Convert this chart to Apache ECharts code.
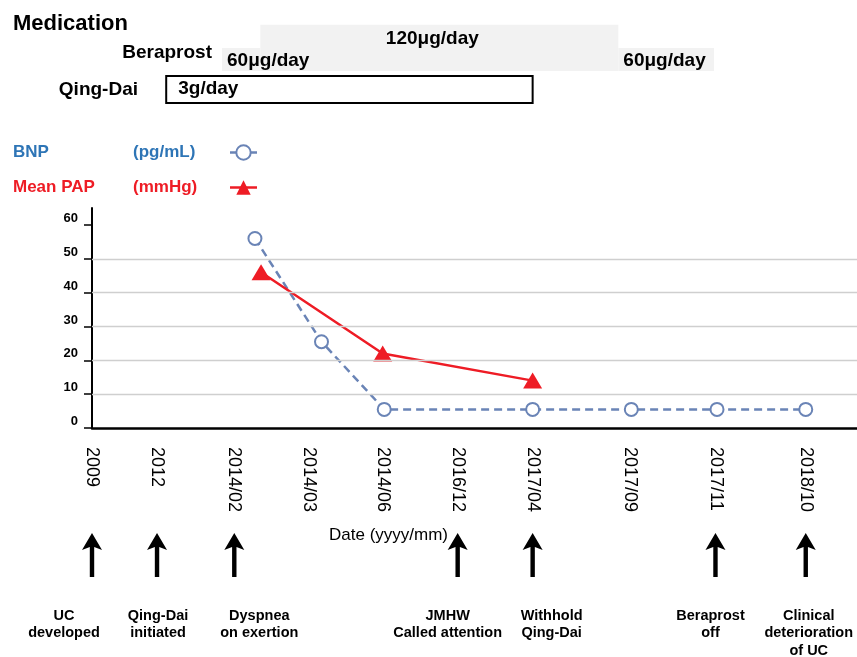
<!DOCTYPE html>
<html>
<head>
<meta charset="utf-8">
<script src="https://cdn.jsdelivr.net/npm/echarts@6/dist/echarts.min.js"></script>
<style>
  html, body { margin: 0; padding: 0; background: #fff; }
  #main { width: 857px; height: 657px; }
</style>
</head>
<body>
<div id="main"></div>
<script>
// timeline is schematic (not to scale), positions in axis units 0..100
var dateLabels = ['2009', '2012', '2014/02', '2014/03', '2014/06', '2016/12', '2017/04', '2017/09', '2017/11', '2018/10'];
var datePos = [0, 8.5, 18.6, 28.4, 38.0, 47.8, 57.6, 70.3, 81.5, 93.3];

var bnpX = [21.3, 30.0, 38.2, 57.6, 70.5, 81.7, 93.3];
var bnpY = [56, 25.5, 5.5, 5.5, 5.5, 5.5, 5.5];
var papX = [22.1, 38.0, 57.6];
var papY = [46, 22, 14];

var yTicks = [0, 10, 20, 30, 40, 50, 60];
var gridValues = [10, 20, 30, 40, 50];

// events: index into dateLabels
var eventDateIdx = [0, 1, 2, 5, 6, 8, 9];
var eventText = ['UC\ndeveloped', 'Qing-Dai\ninitiated', 'Dyspnea\non exertion', 'JMHW\nCalled attention', 'Withhold\nQing-Dai', 'Beraprost\noff', 'Clinical\ndeterioration\nof UC'];
var eventShift = [-28, 1, 25, -10, 19, -5, 3];

// medication periods
var beraprostStart = [17.0, 22.0, 68.8];
var beraprostEnd = [22.0, 68.8, 81.3];
var beraprostDose = [60, 120, 60];
var qingdaiStart = [9.7];
var qingdaiEnd = [57.6];
var qingdaiDose = ['3g/day'];

var FONT = 'Liberation Sans, Arial, sans-serif';
var BNP_COLOR = '#6a84b6';
var PAP_COLOR = '#ee1c25';
var arrowPath = 'path://M10,0 L20,17 L12.2,14 L12.2,44 L7.8,44 L7.8,14 L0,17 Z';

var chart = echarts.init(document.getElementById('main'));

var beraprostData = beraprostStart.map(function (s, i) { return [s, beraprostEnd[i], beraprostDose[i], 1]; });
var qingdaiData = qingdaiStart.map(function (s, i) { return [s, qingdaiEnd[i], qingdaiDose[i], 0]; });

function nearestLabel(v) {
  var best = 0;
  for (var i = 1; i < datePos.length; i++) {
    if (Math.abs(datePos[i] - v) < Math.abs(datePos[best] - v)) best = i;
  }
  return dateLabels[best];
}

var option = {
  animation: false,
  textStyle: { fontFamily: FONT },
  title: {
    text: 'Medication',
    left: 8, top: 8,
    textStyle: { fontSize: 22, fontWeight: 'bold', color: '#000', fontFamily: FONT }
  },
  legend: {
    orient: 'vertical',
    left: 8, top: 139,
    align: 'right',
    itemWidth: 27, itemHeight: 18,
    itemGap: 18,
    lineStyle: { type: 'solid', width: 2.5 },
    data: [
      { name: 'BNP', textStyle: { color: '#2e75b6' } },
      { name: 'Mean PAP', textStyle: { color: PAP_COLOR } }
    ],
    formatter: function (name) {
      var unit = name === 'BNP' ? '(pg/mL)' : '(mmHg)';
      return '{n|' + name + '}{u|' + unit + '}';
    },
    textStyle: {
      fontFamily: FONT,
      rich: {
        n: { width: 120, fontSize: 17, fontWeight: 'bold', align: 'left' },
        u: { width: 92, fontSize: 17, fontWeight: 'bold', align: 'left' }
      }
    }
  },
  grid: [
    { left: 92, right: 0, top: 34, height: 74 },
    { left: 92, right: 0, top: 208, height: 220 },
    { left: 92, right: 0, top: 533, height: 44 }
  ],
  xAxis: [
    { gridIndex: 0, type: 'value', min: 0, max: 100, show: false },
    {
      gridIndex: 1, type: 'value', min: 0, max: 100,
      axisLine: { lineStyle: { color: '#000', width: 2.5 } },
      axisTick: { show: false },
      splitLine: { show: false },
      axisLabel: {
        customValues: datePos,
        formatter: nearestLabel,
        rotate: -90, margin: 19,
        fontSize: 18, color: '#000', fontFamily: FONT
      }
    },
    { gridIndex: 2, type: 'value', min: 0, max: 100, show: false }
  ],
  yAxis: [
    {
      gridIndex: 0, type: 'category', data: ['Qing-Dai', 'Beraprost'],
      axisLine: { show: false }, axisTick: { show: false },
      axisLabel: {
        margin: -120,
        formatter: function (v) { return v === 'Beraprost' ? '{b|' + v + '}' : '{q|' + v + '}'; },
        rich: {
          b: { fontSize: 19, fontWeight: 'bold', color: '#000', fontFamily: FONT },
          q: { fontSize: 19, fontWeight: 'bold', color: '#000', fontFamily: FONT, padding: [0, 74, 0, 0] }
        }
      }
    },
    {
      gridIndex: 1, type: 'value', min: 0, max: 65,
      axisLine: { show: true, lineStyle: { color: '#000', width: 2 } },
      axisTick: { show: true, customValues: yTicks, length: 8, lineStyle: { color: '#000', width: 1.5 } },
      axisLabel: { customValues: yTicks, fontWeight: 'bold', fontSize: 13, color: '#000', margin: 14, verticalAlign: 'bottom', fontFamily: FONT },
      splitLine: { show: false }
    },
    { gridIndex: 2, type: 'value', min: 0, max: 1, show: false }
  ],
  graphic: [
    {
      type: 'text', left: 329, top: 527,
      style: { text: 'Date (yyyy/mm)', font: '17px ' + FONT, fill: '#000' }
    }
  ],
  series: [
    {
      type: 'custom', xAxisIndex: 0, yAxisIndex: 0,
      encode: { x: [0, 1], y: 3 },
      data: beraprostData,
      renderItem: function (params, api) {
        var x0 = api.coord([api.value(0), 1])[0];
        var x1 = api.coord([api.value(1), 1])[0];
        var band = api.size([0, 1])[1];
        var bottom = api.coord([0, 1])[1] + band / 2;
        var dose = api.value(2);
        var h = band * dose / 96;
        var big = dose >= 120;
        return {
          type: 'group',
          children: [
            { type: 'rect', z2: 0, shape: { x: x0, y: bottom - h, width: x1 - x0, height: h }, style: { fill: '#f2f2f2' } },
            {
              type: 'text', z2: 10,
              x: big ? (x0 + x1) / 2 - 7 : x0 + 5,
              y: big ? bottom - h + 14 : bottom - h / 2 + 1,
              style: { text: dose + 'μg/day', font: 'bold 19px ' + FONT, fill: '#000', align: big ? 'center' : 'left', verticalAlign: 'middle' }
            }
          ]
        };
      }
    },
    {
      type: 'custom', xAxisIndex: 0, yAxisIndex: 0,
      encode: { x: [0, 1], y: 3 },
      data: qingdaiData,
      renderItem: function (params, api) {
        var x0 = api.coord([api.value(0), 0])[0];
        var x1 = api.coord([api.value(1), 0])[0];
        var band = api.size([0, 1])[1];
        var yc = api.coord([0, 0])[1];
        var h = band * 0.73;
        return {
          type: 'group',
          children: [
            { type: 'rect', shape: { x: x0, y: yc - h / 2, width: x1 - x0, height: h }, style: { fill: '#fff', stroke: '#000', lineWidth: 2 } },
            { type: 'text', x: x0 + 12, y: yc - 1, style: { text: api.value(2), font: 'bold 19px ' + FONT, fill: '#000', verticalAlign: 'middle' } }
          ]
        };
      }
    },
    {
      name: 'BNP', type: 'line', xAxisIndex: 1, yAxisIndex: 1,
      data: bnpX.map(function (x, i) { return [x, bnpY[i]]; }),
      symbol: 'emptyCircle', symbolSize: 13,
      itemStyle: { color: BNP_COLOR, borderWidth: 2.5 },
      lineStyle: { color: BNP_COLOR, width: 2.5, type: [8, 5] },
      z: 3,
      markLine: {
        silent: true, symbol: 'none', label: { show: false },
        lineStyle: { color: '#cfcfcf', width: 1.3, type: 'solid' },
        data: gridValues.map(function (v) { return { yAxis: v }; })
      }
    },
    {
      name: 'Mean PAP', type: 'line', xAxisIndex: 1, yAxisIndex: 1,
      data: papX.map(function (x, i) { return [x, papY[i]]; }),
      symbol: 'triangle', symbolSize: [19, 16],
      itemStyle: { color: PAP_COLOR },
      lineStyle: { color: PAP_COLOR, width: 2.5 },
      z: 4
    },
    {
      type: 'scatter', xAxisIndex: 2, yAxisIndex: 2,
      symbol: arrowPath, symbolSize: [20, 44],
      itemStyle: { color: '#000', opacity: 1 },
      data: eventDateIdx.map(function (d, i) {
        return { value: [datePos[d], 0.5], label: { offset: [eventShift[i], 0] } };
      }),
      label: {
        show: true, position: 'bottom', distance: 30,
        formatter: function (p) { return eventText[p.dataIndex]; },
        fontWeight: 'bold', fontSize: 14.5, lineHeight: 17.5, align: 'center',
        color: '#000', fontFamily: FONT
      }
    }
  ]
};

chart.setOption(option);
</script>
</body>
</html>
